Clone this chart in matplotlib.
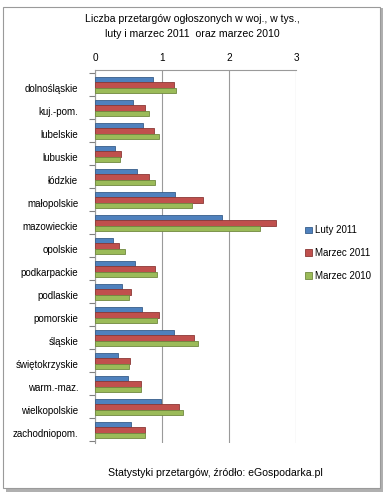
import numpy as np
import matplotlib
matplotlib.use('Agg')
import matplotlib.pyplot as plt
from matplotlib.patches import Rectangle

plt.rcParams['font.family'] = ['Liberation Sans', 'DejaVu Sans']

# dane (tys. przetargow)
woj = ['dolnośląskie', 'kuj.-pom.', 'lubelskie', 'lubuskie', 'łódzkie', 'małopolskie',
       'mazowieckie', 'opolskie', 'podkarpackie', 'podlaskie', 'pomorskie', 'śląskie',
       'świętokrzyskie', 'warm.-maz.', 'wielkopolskie', 'zachodniopom.']
luty_2011 = [0.86, 0.56, 0.72, 0.30, 0.62, 1.20, 1.89, 0.27, 0.60, 0.40, 0.70, 1.18, 0.34, 0.49, 0.99, 0.54]
marzec_2011 = [1.18, 0.74, 0.88, 0.39, 0.80, 1.61, 2.70, 0.36, 0.90, 0.53, 0.96, 1.48, 0.52, 0.69, 1.25, 0.75]
marzec_2010 = [1.21, 0.80, 0.96, 0.38, 0.89, 1.45, 2.46, 0.45, 0.92, 0.51, 0.93, 1.54, 0.50, 0.69, 1.32, 0.74]
serie = ['Luty 2011', 'Marzec 2011', 'Marzec 2010']
kolory = ['#4F81BD', '#C0504D', '#9BBB59']
krawedzie = ['#385D8A', '#8C3836', '#71893F']

fig = plt.figure(figsize=(3.88, 5.0), dpi=100)

# ramka z cieniem
fig.patches.append(Rectangle((6 / 388, 1 - 492 / 500), 377 / 388, 484 / 500, transform=fig.transFigure,
                             facecolor='#b0b0b0', edgecolor='none', zorder=-2))
fig.patches.append(Rectangle((3 / 388, 1 - 488 / 500), 377 / 388, 481 / 500, transform=fig.transFigure,
                             facecolor='white', edgecolor='#9a9a9a', linewidth=0.8, zorder=-1))

ax = fig.add_axes([95 / 388, 1 - 443 / 500, 201 / 388, 373 / 500])
ax.set_facecolor('none')
ax.set_zorder(2)

y = np.arange(len(woj))
h = 0.23
dane = [luty_2011, marzec_2011, marzec_2010]
for i, (vals, c, e, lab) in enumerate(zip(dane, kolory, krawedzie, serie)):
    ax.barh(y + (i - 1) * h, vals, height=h, color=c, edgecolor=e, linewidth=0.6, label=lab, zorder=3)

ax.set_xlim(0, 3)
ax.set_ylim(15.57, -0.65)
ax.xaxis.tick_top()
ax.set_xticks([0, 1, 2, 3])
ax.tick_params(axis='x', length=0, labelsize=7.2, pad=5)
ax.set_yticks(y + 0.12)
ax.set_yticklabels(woj)
ax.set_yticks(np.arange(-0.5, 16, 1), minor=True)
ax.tick_params(axis='y', which='major', length=0, labelsize=7, pad=12)
ax.tick_params(axis='y', which='minor', length=4, color='#808080', width=0.8)
ax.grid(axis='x', color='#9a9a9a', linewidth=0.8, zorder=0)
for s in ['right', 'bottom']:
    ax.spines[s].set_visible(False)
for s in ['left', 'top']:
    ax.spines[s].set_color('#9a9a9a')
    ax.spines[s].set_linewidth(0.8)

fig.text(0.495, 1 - 19 / 500, 'Liczba przetargów ogłoszonych w woj., w tys.,', ha='center', va='center', fontsize=7.6)
fig.text(0.495, 1 - 34 / 500, 'luty i marzec 2011  oraz marzec 2010', ha='center', va='center', fontsize=7.6)
fig.text(0.556, 1 - 473 / 500, 'Statystyki przetargów, źródło: eGospodarka.pl', ha='center', va='center', fontsize=7.6)

fig.legend(loc='center left', bbox_to_anchor=(296 / 388, 1 - 253 / 500), frameon=False, fontsize=7,
           handlelength=0.7, handleheight=0.7, handletextpad=0.4, labelspacing=1.3)

fig.savefig('out.png', dpi=100)
